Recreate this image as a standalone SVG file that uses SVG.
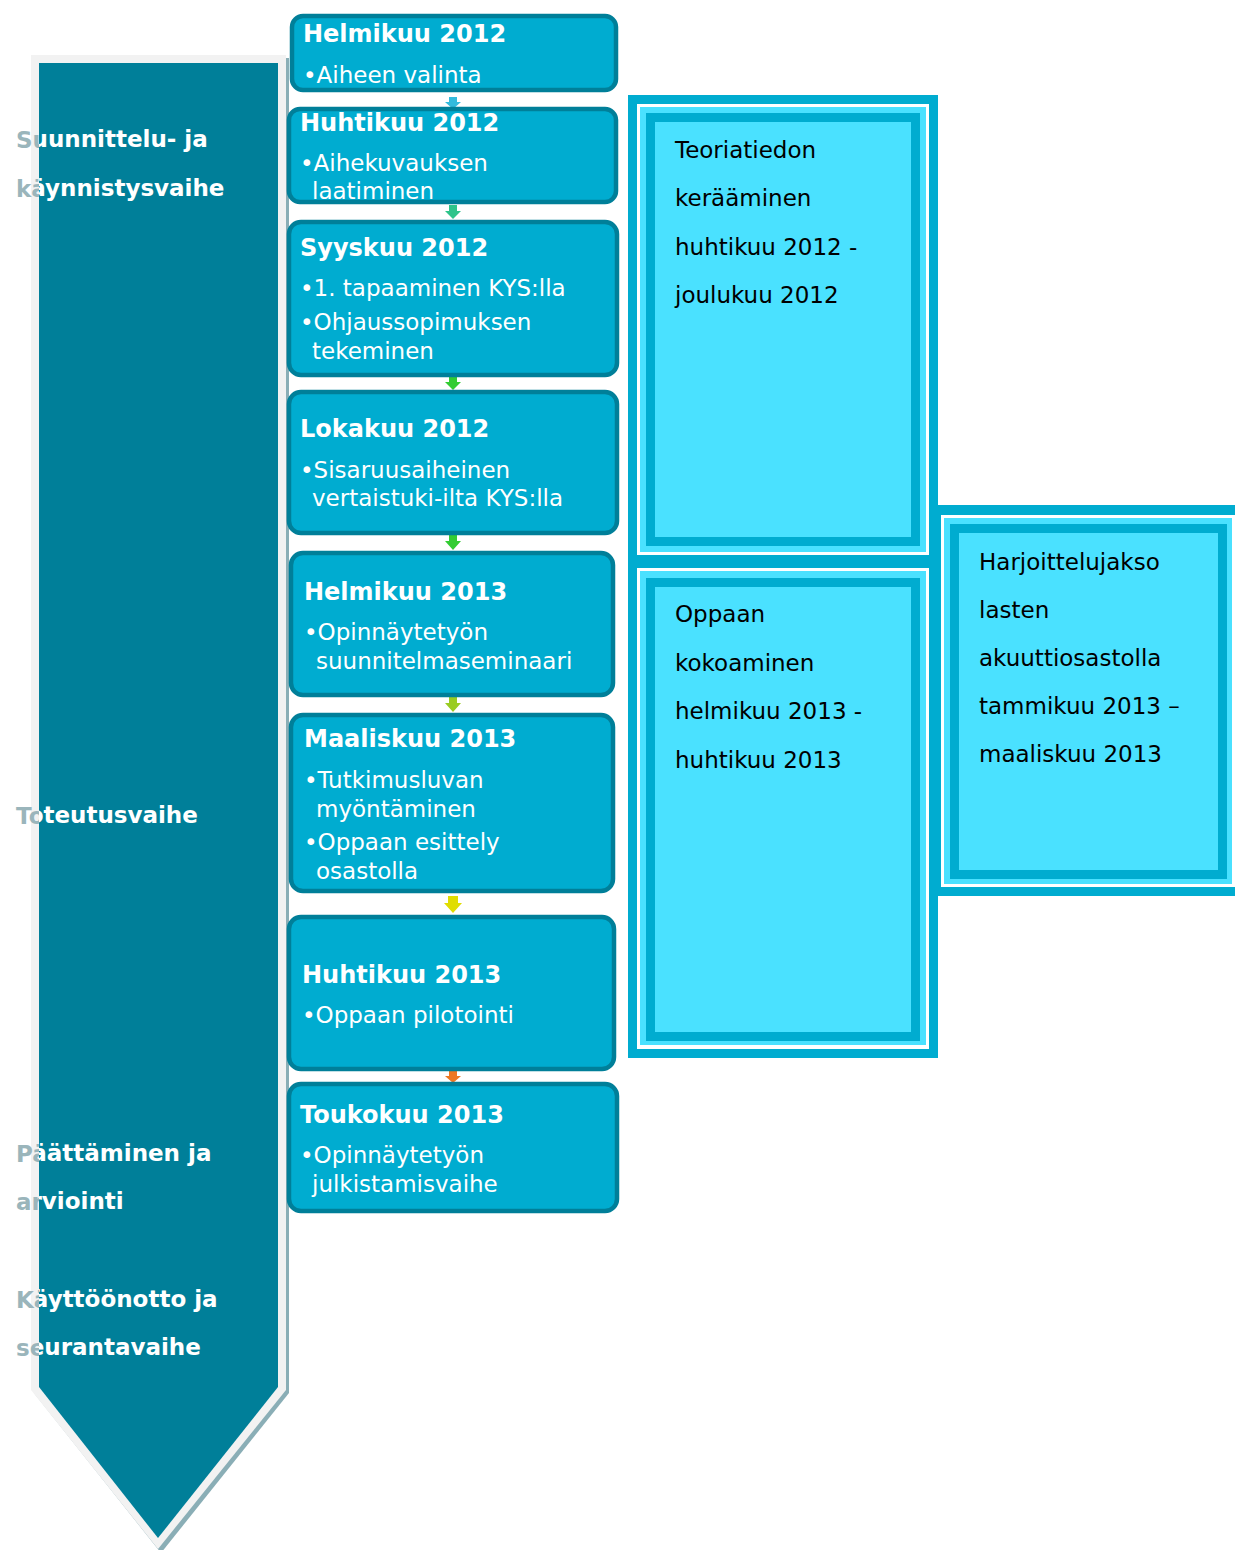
<svg xmlns="http://www.w3.org/2000/svg" width="1235" height="1550" viewBox="0 0 1235 1550">
<style>
.phase{font-family:"DejaVu Sans","Verdana",sans-serif;font-weight:bold;font-size:23px;fill:#ffffff}
.phsh{font-family:"DejaVu Sans","Verdana",sans-serif;font-weight:bold;font-size:23px;fill:#9ab5bb}
.box{fill:#00acd0;stroke:#007f99;stroke-width:4.5}
.hd{font-family:"DejaVu Sans","Verdana",sans-serif;font-weight:bold;font-size:24px;fill:#ffffff}
.bt{font-family:"DejaVu Sans","Verdana",sans-serif;font-size:23px;fill:#ffffff}
.pt{font-family:"DejaVu Sans","Verdana",sans-serif;font-size:23px;fill:#000000}
.teal{fill:#00acd0}
.wh{fill:#ffffff}
.lc{fill:#4ae1ff}
</style>
<defs>
<clipPath id="tealclip"><rect x="39" y="63" width="239" height="1480"/></clipPath>
<clipPath id="outclip"><rect x="0" y="0" width="39" height="1550"/></clipPath>
</defs>
<rect width="1235" height="1550" fill="#ffffff"/>
<g id="phase-arrow">
<polygon points="34,58 289,58 289,1393 161,1553 34,1393" fill="#8aaeb6"/>
<polygon points="31,55 286,55 286,1390 158,1549 31,1390" fill="#f2f2f2"/>
<polygon points="39,63 278,63 278,1387 158,1538 39,1387" fill="#007f99"/>
</g>
<g id="phase-labels">
<g clip-path="url(#outclip)">
<text class="phsh" x="16" y="148">Suunnittelu- ja</text>
<text class="phsh" x="16" y="197">käynnistysvaihe</text>
<text class="phsh" x="16" y="824">Toteutusvaihe</text>
<text class="phsh" x="16" y="1162">Päättäminen ja</text>
<text class="phsh" x="16" y="1210">arviointi</text>
<text class="phsh" x="16" y="1308">Käyttöönotto ja</text>
<text class="phsh" x="16" y="1356">seurantavaihe</text>
</g>
<g clip-path="url(#tealclip)">
<text class="phase" x="15" y="147">Suunnittelu- ja</text>
<text class="phase" x="15" y="196">käynnistysvaihe</text>
<text class="phase" x="15" y="823">Toteutusvaihe</text>
<text class="phase" x="15" y="1161">Päättäminen ja</text>
<text class="phase" x="15" y="1209">arviointi</text>
<text class="phase" x="15" y="1307">Käyttöönotto ja</text>
<text class="phase" x="15" y="1355">seurantavaihe</text>
</g>
</g>
<g id="connectors">
<path d="M449,97 H457 V102 H461 L453,109 L445,102 H449 Z" fill="#33bbdd"/>
<path d="M449,205 H457 V211 H461 L453,219 L445,211 H449 Z" fill="#2ec48a"/>
<path d="M449,377 H457 V382 H461 L453,390 L445,382 H449 Z" fill="#33cc33"/>
<path d="M449,535 H457 V541 H461 L453,550 L445,541 H449 Z" fill="#33cc33"/>
<path d="M449,697 H457 V703 H461 L453,712 L445,703 H449 Z" fill="#99cc22"/>
<path d="M448,896 H458 V903 H462 L453,913 L444,903 H448 Z" fill="#e0dd00"/>
<path d="M449,1071 H457 V1076 H461 L453,1083 L445,1076 H449 Z" fill="#ee7722"/>
</g>
<g id="box1">
<rect class="box" x="292" y="16" width="324" height="74" rx="11"/>
<text class="hd" x="303" y="42">Helmikuu 2012</text>
<text class="bt" x="303" y="83">•Aiheen valinta</text>
</g>
<g id="box2">
<rect class="box" x="289" y="109" width="327" height="93" rx="11"/>
<text class="hd" x="300" y="131">Huhtikuu 2012</text>
<text class="bt" x="300" y="171">•Aihekuvauksen</text>
<text class="bt" x="312" y="199">laatiminen</text>
</g>
<g id="box3">
<rect class="box" x="289" y="222" width="328" height="153" rx="12"/>
<text class="hd" x="300" y="256">Syyskuu 2012</text>
<text class="bt" x="300" y="296">•1. tapaaminen KYS:lla</text>
<text class="bt" x="300" y="330">•Ohjaussopimuksen</text>
<text class="bt" x="312" y="359">tekeminen</text>
</g>
<g id="box4">
<rect class="box" x="289" y="392" width="328" height="141" rx="12"/>
<text class="hd" x="300" y="437">Lokakuu 2012</text>
<text class="bt" x="300" y="478">•Sisaruusaiheinen</text>
<text class="bt" x="312" y="506">vertaistuki-ilta KYS:lla</text>
</g>
<g id="box5">
<rect class="box" x="291" y="553" width="322" height="142" rx="12"/>
<text class="hd" x="304" y="600">Helmikuu 2013</text>
<text class="bt" x="304" y="640">•Opinnäytetyön</text>
<text class="bt" x="316" y="669">suunnitelmaseminaari</text>
</g>
<g id="box6">
<rect class="box" x="291" y="715" width="322" height="176" rx="12"/>
<text class="hd" x="304" y="747">Maaliskuu 2013</text>
<text class="bt" x="304" y="788">•Tutkimusluvan</text>
<text class="bt" x="316" y="817">myöntäminen</text>
<text class="bt" x="304" y="850">•Oppaan esittely</text>
<text class="bt" x="316" y="879">osastolla</text>
</g>
<g id="box7">
<rect class="box" x="289" y="917" width="325" height="152" rx="12"/>
<text class="hd" x="302" y="983">Huhtikuu 2013</text>
<text class="bt" x="302" y="1023">•Oppaan pilotointi</text>
</g>
<g id="box8">
<rect class="box" x="289" y="1084" width="328" height="127" rx="12"/>
<text class="hd" x="300" y="1123">Toukokuu 2013</text>
<text class="bt" x="300" y="1163">•Opinnäytetyön</text>
<text class="bt" x="312" y="1192">julkistamisvaihe</text>
</g>
<g id="frame">
<rect class="teal" x="628" y="95" width="310" height="963"/>
<rect class="teal" x="929" y="505" width="306" height="391"/>
</g>
<g id="panel1">
<rect class="wh" x="637" y="104" width="292" height="451"/>
<rect class="lc" x="640" y="107" width="286" height="445"/>
<rect class="teal" x="646" y="113" width="274" height="433"/>
<rect class="lc" x="655" y="122" width="256" height="415"/>
<text class="pt" x="675" y="158">Teoriatiedon</text>
<text class="pt" x="675" y="206">kerääminen</text>
<text class="pt" x="675" y="255">huhtikuu 2012 -</text>
<text class="pt" x="675" y="303">joulukuu 2012</text>
</g>
<g id="panel2">
<rect class="wh" x="637" y="568" width="292" height="481"/>
<rect class="lc" x="640" y="571" width="286" height="474"/>
<rect class="teal" x="646" y="578" width="274" height="463"/>
<rect class="lc" x="655" y="587" width="256" height="445"/>
<text class="pt" x="675" y="622">Oppaan</text>
<text class="pt" x="675" y="671">kokoaminen</text>
<text class="pt" x="675" y="719">helmikuu 2013 -</text>
<text class="pt" x="675" y="768">huhtikuu 2013</text>
</g>
<g id="panel3">
<rect class="wh" x="941" y="515" width="294" height="372"/>
<rect class="lc" x="944" y="518" width="288" height="366"/>
<rect class="teal" x="950" y="524" width="277" height="355"/>
<rect class="lc" x="959" y="533" width="259" height="337"/>
<text class="pt" x="979" y="570">Harjoittelujakso</text>
<text class="pt" x="979" y="618">lasten</text>
<text class="pt" x="979" y="666">akuuttiosastolla</text>
<text class="pt" x="979" y="714">tammikuu 2013 –</text>
<text class="pt" x="979" y="762">maaliskuu 2013</text>
</g>
</svg>
